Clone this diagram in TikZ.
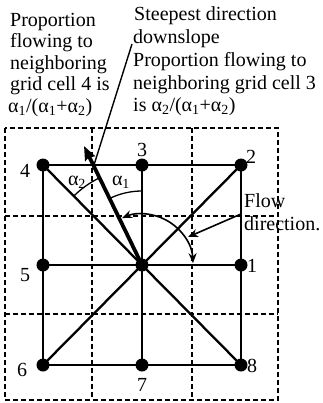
\documentclass[tikz,border=0pt]{standalone}
\usepackage{fontspec}
\setmainfont{Liberation Serif}
\usetikzlibrary{arrows.meta}
\begin{document}
\begin{tikzpicture}[x=1bp,y=-1bp,
  txt/.style={anchor=base west,inner sep=0pt,font=\fontsize{20bp}{22bp}\selectfont},
  lbl/.style={inner sep=0pt,font=\fontsize{20bp}{22bp}\selectfont},
  dot/.style={circle,fill=black,inner sep=0pt,minimum size=13bp},
  gridd/.style={line width=1.3bp,dash pattern=on 5bp off 3bp},
  edge/.style={line width=2.3bp},
  bigarrow/.style={line width=3.8bp,-{Stealth[length=14bp,width=11bp,inset=2bp]}},
  thinline/.style={line width=1.4bp},
  anglearc/.style={line width=1.3bp},
  flowarc/.style={line width=1.6bp,{Stealth[length=10bp,width=8bp]}-{Stealth[length=10bp,width=8bp]}},
  pointer/.style={line width=1.6bp,-{Stealth[length=10bp,width=8bp]}}
]
\useasboundingbox (0,0) rectangle (323,403);
% dashed grid
\draw[gridd] (5,128) rectangle (278,400);
\draw[gridd] (92,128) -- (92,400);
\draw[gridd] (192,128) -- (192,400);
\draw[gridd] (5,216) -- (278,216);
\draw[gridd] (5,314) -- (278,314);
% grid points
\node[dot] (n4) at (43,165) {};
\node[dot] (n3) at (142,165) {};
\node[dot] (n2) at (241,165) {};
\node[dot] (n5) at (43,265) {};
\node[dot] (c) at (142,265) {};
\node[dot] (n1) at (241,265) {};
\node[dot] (n6) at (43,365) {};
\node[dot] (n7) at (142,365) {};
\node[dot] (n8) at (241,365) {};
% edges
\draw[edge] (n4.center) -- (n2.center) -- (n8.center) -- (n6.center) -- cycle;
\draw[edge] (n3.center) -- (n7.center);
\draw[edge] (n5.center) -- (n1.center);
\draw[edge] (n4.center) -- (n8.center);
\draw[edge] (n2.center) -- (n6.center);
% point labels
\node[lbl] (l4) at (25,171) {4};
\node[lbl] (l3) at (142,150) {3};
\node[lbl] (l2) at (251,157) {2};
\node[lbl] (l1) at (252,266) {1};
\node[lbl] (l5) at (25,275) {5};
\node[lbl] (l6) at (22,370) {6};
\node[lbl] (l7) at (142,385) {7};
\node[lbl] (l8) at (252,366) {8};
% steepest direction arrow
\coordinate (tip) at (84,146);
\draw[bigarrow] (c.center) -- (tip);
% angle arcs
\draw[anglearc] ([shift={(-90:74)}]c.center) arc[start angle=-90,end angle=-116,radius=74];
\draw[anglearc] ([shift={(-116:97)}]c.center) arc[start angle=-116,end angle=-135,radius=97];
\node[lbl] (a1) at (121,182) {α\textsubscript{1}};
\node[lbl] (a2) at (77,182) {α\textsubscript{2}};
% flow direction arc
\draw[flowarc] ([shift={(-2:51)}]c.center) arc[start angle=-2,end angle=-113,radius=51];
% flow direction label and pointer
\node[txt] (fl1) at (244,207) {Flow};
\node[txt] (fl2) at (244,230) {direction.};
\coordinate (f1) at (241,214);
\coordinate (f2) at (188,237);
\draw[pointer] (f1) -- (f2);
% steepest direction label line
\coordinate (s1) at (132,44);
\coordinate (s2) at (94,165);
\draw[thinline] (s1) -- (s2);
% left text block
\node[txt] (t1) at (10,26) {Proportion};
\node[txt] (t2) at (10,47.5) {flowing to};
\node[txt] (t3) at (10,69) {neighboring};
\node[txt] (t4) at (10,90.5) {grid cell 4 is};
\node[txt] (t5) at (8,112) {α\textsubscript{1}/(α\textsubscript{1}+α\textsubscript{2})};
% right text blocks
\node[txt] (r1) at (134,20.7) {Steepest direction};
\node[txt] (r2) at (133,43.3) {downslope};
\node[txt] (r3) at (133,66.7) {Proportion flowing to};
\node[txt] (r4) at (133,89.3) {neighboring grid cell 3};
\node[txt] (r5) at (133,111.7) {is α\textsubscript{2}/(α\textsubscript{1}+α\textsubscript{2})};
\end{tikzpicture}
\end{document}
